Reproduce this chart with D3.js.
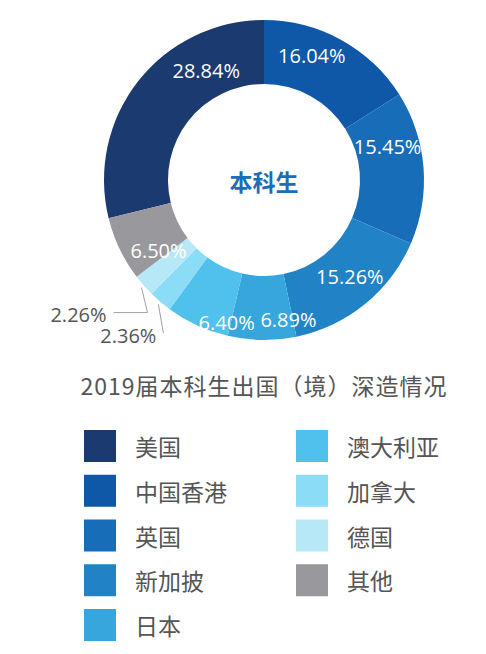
<!DOCTYPE html>
<html>
<head>
<meta charset="utf-8">
<script src="https://cdn.jsdelivr.net/npm/d3@7"></script>
<style>
  body { margin: 0; background: #fff; }
  svg { display: block; }
</style>
</head>
<body>
<div id="container"></div>
<script>
/**
 * CONSTANTS AND GLOBALS
 * */
const width = 486,
    height = 654,
    cx = 264,
    cy = 180,
    outerR = 160,
    innerR = 96,
    labelR = 128;

// data, legend order (the legend really says 新加披)
const countries = ["美国", "中国香港", "英国", "新加披", "日本", "澳大利亚", "加拿大", "德国", "其他"];
const shares = [28.84, 16.04, 15.45, 15.26, 6.89, 6.40, 2.36, 2.26, 6.50];
const colors = ["#1b3a6f", "#0e58a7", "#186db8", "#2183c6", "#37a6dd", "#50c0ec", "#8bdcf6", "#b7e8f8", "#98989d"];
const centerTitle = "本科生";
const chartTitle = "2019届本科生出国（境）深造情况";

// hand nudges for the inside labels (designer placed them off-centre)
const labelNudge = [[43, -31], [-14, -12], [-4, -24], [5, -3], [26, 12], [16, 26], null, null, [10, 15]];
// outside labels: elbow offset from the arc point, horizontal run
const leaders = {
    6: { elbow: [5, 29], run: 0 },
    7: { elbow: [6, 25], run: -34 }
};

const svg = d3.select("#container")
    .append("svg")
    .attr("width", width)
    .attr("height", height);

const total = d3.sum(shares);
const offset = shares[0] / total * 2 * Math.PI;

// clockwise, 美国 ends at 12 o'clock
const pie = d3.pie()
    .sort(null)
    .value(d => d)
    .startAngle(-offset)
    .endAngle(2 * Math.PI - offset);

const arcs = pie(shares);

const arcGen = d3.arc().innerRadius(innerR).outerRadius(outerR);
const labelArc = d3.arc().innerRadius(labelR).outerRadius(labelR);
const edgeArc = d3.arc().innerRadius(outerR + 3).outerRadius(outerR + 3);

const g = svg.append("g").attr("transform", `translate(${cx},${cy})`);

g.selectAll("path.slice")
    .data(arcs)
    .join("path")
    .attr("class", "slice")
    .attr("d", arcGen)
    .attr("fill", (d, i) => colors[i]);

// inside labels
g.selectAll("text.pct")
    .data(arcs.filter((d, i) => labelNudge[i]))
    .join("text")
    .attr("class", "pct")
    .attr("transform", d => {
        const [x, y] = labelArc.centroid(d);
        const n = labelNudge[d.index];
        return `translate(${x + n[0]},${y + n[1]})`;
    })
    .attr("text-anchor", "middle")
    .attr("dominant-baseline", "central")
    .attr("font-family", "'Open Sans', sans-serif")
    .attr("font-size", 20)
    .attr("fill", "#fff")
    .text(d => d.data.toFixed(2) + "%");

// outside labels with leader lines
Object.keys(leaders).forEach(k => {
    const d = arcs[+k];
    const L = leaders[k];
    const s = edgeArc.centroid(d);
    const e = [s[0] + L.elbow[0], s[1] + L.elbow[1]];
    const t = [e[0] + L.run, e[1]];
    g.append("polyline")
        .attr("points", [s, e, t].map(p => p.join(",")).join(" "))
        .attr("fill", "none")
        .attr("stroke", "#a0a0a0")
        .attr("stroke-width", 1);
    g.append("text")
        .attr("x", t[0] - 7)
        .attr("y", t[1] + 2)
        .attr("text-anchor", "end")
        .attr("dominant-baseline", "central")
        .attr("font-family", "'Open Sans', sans-serif")
        .attr("font-size", 20)
        .attr("fill", "#555")
        .text(d.data.toFixed(2) + "%");
});

g.append("text")
    .attr("y", 1)
    .attr("text-anchor", "middle")
    .attr("dominant-baseline", "central")
    .attr("font-family", "'Noto Sans CJK SC', sans-serif")
    .attr("font-weight", "bold")
    .attr("font-size", 23)
    .attr("fill", "#1d6cb8")
    .text(centerTitle);

svg.append("text")
    .attr("x", cx)
    .attr("y", 385)
    .attr("text-anchor", "middle")
    .attr("dominant-baseline", "central")
    .attr("font-family", "'Noto Sans CJK SC', sans-serif")
    .attr("font-size", 23)
    .attr("letter-spacing", 1)
    .attr("fill", "#555")
    .text(chartTitle);

/* LEGEND */
const rowScale = d3.scalePoint()
    .domain(d3.range(5))
    .range([430, 609]);
const colX = [84, 296];

const legend = svg.selectAll("g.legend")
    .data(countries)
    .join("g")
    .attr("class", "legend")
    .attr("transform", (d, i) => `translate(${colX[i < 5 ? 0 : 1]},${rowScale(i < 5 ? i : i - 5)})`);

legend.append("rect")
    .attr("width", 32)
    .attr("height", 32)
    .attr("fill", (d, i) => colors[i]);

legend.append("text")
    .attr("x", 51)
    .attr("y", 16)
    .attr("dominant-baseline", "central")
    .attr("font-family", "'Noto Sans CJK SC', sans-serif")
    .attr("font-size", 23)
    .attr("fill", "#555")
    .text(d => d);
</script>
</body>
</html>
